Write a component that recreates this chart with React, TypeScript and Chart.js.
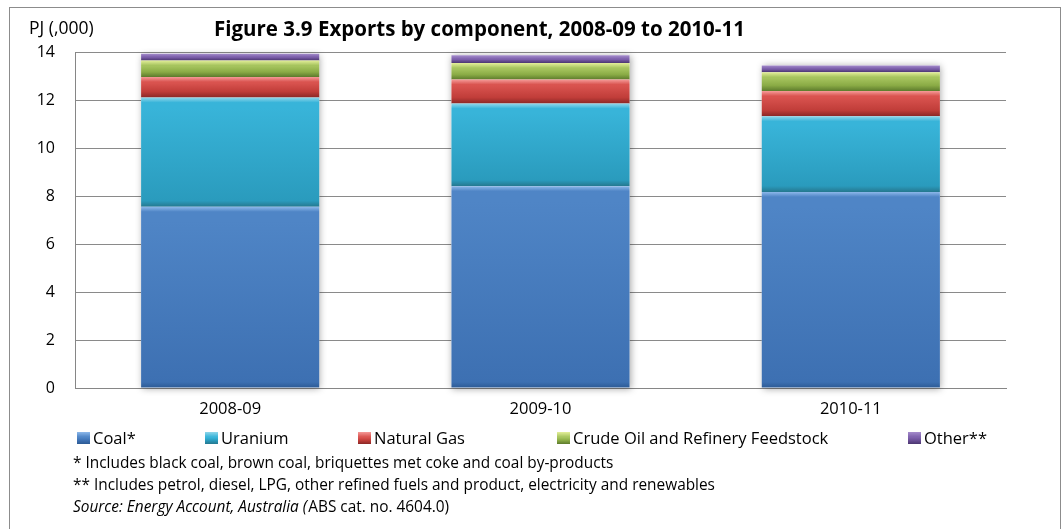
import React, { useEffect, useRef } from "react";
import { Chart, registerables } from "chart.js";

Chart.register(...registerables);

const categories = ["2008-09", "2009-10", "2010-11"];
const coal = [7.55, 8.41, 8.17];
const uranium = [4.55, 3.44, 3.15];
const naturalGas = [0.86, 1.0, 1.05];
const crudeOil = [0.69, 0.69, 0.79];
const other = [0.28, 0.32, 0.28];
const seriesNames = ["Coal*", "Uranium", "Natural Gas", "Crude Oil and Refinery Feedstock", "Other**"];
const seriesValues = [coal, uranium, naturalGas, crudeOil, other];
const yTicks = [0, 2, 4, 6, 8, 10, 12, 14];

const titleText = "Figure 3.9 Exports by component, 2008-09 to 2010-11";
const unitText = "PJ (,000)";
const note1 = "* Includes black coal, brown coal, briquettes met coke and coal by-products";
const note2 = "** Includes petrol, diesel, LPG, other refined fuels and product, electricity and renewables";
const sourceItalic = "Source: Energy Account, Australia (";
const sourceNormal = "ABS cat. no. 4604.0)";

// [top highlight, upper body, lower body, bottom]
const palettes = [
  ["#8db8ea", "#4f85c6", "#3d70b2", "#2c5a94"],
  ["#8fd6ea", "#38b4d9", "#2a9bbd", "#25788f"],
  ["#f59a98", "#d9534f", "#c03d39", "#8a2725"],
  ["#e4ef9a", "#a6c45e", "#8aab45", "#5c7a2c"],
  ["#a58ccc", "#7f62ad", "#6a4f96", "#4b3670"],
];
const baseColors = ["#4a7ebe", "#31a9cf", "#c9443f", "#98b851", "#765aa2"];

const FONT = "'Open Sans', Lato, sans-serif";

function makeGradient(ctx: CanvasRenderingContext2D, y0: number, y1: number, p: string[]) {
  const g = ctx.createLinearGradient(0, y0, 0, y1);
  const h = Math.max(1, y1 - y0);
  const f = Math.min(0.45, 5 / h);
  g.addColorStop(0, p[0]);
  g.addColorStop(f, p[1]);
  g.addColorStop(Math.min(0.9, f + 0.05), p[1]);
  g.addColorStop(Math.max(f + 0.06, 1 - Math.min(0.3, 6 / h)), p[2]);
  g.addColorStop(1, p[3]);
  return g;
}

export default function App() {
  const canvasRef = useRef<HTMLCanvasElement | null>(null);

  useEffect(() => {
    document.body.style.margin = "0";
    const canvas = canvasRef.current;
    if (!canvas) return;

    const decor = {
      id: "decor",
      beforeDatasetsDraw(chart: any) {
        const ctx = chart.ctx as CanvasRenderingContext2D;
        const ys = chart.scales.y;
        const meta = chart.getDatasetMeta(0);
        ctx.save();
        ctx.shadowColor = "rgba(0,0,0,0.35)";
        ctx.shadowBlur = 7;
        ctx.shadowOffsetX = 1;
        ctx.shadowOffsetY = 1;
        ctx.fillStyle = "#ffffff";
        categories.forEach((_, j) => {
          let total = 0;
          seriesValues.forEach((s) => (total += s[j]));
          const el = meta.data[j] as any;
          const w = el.width;
          const x = el.x - w / 2;
          const yt = ys.getPixelForValue(total);
          const yb = ys.getPixelForValue(0);
          ctx.fillRect(x, yt, w, yb - yt);
        });
        ctx.restore();
      },
      afterDraw(chart: any) {
        const ctx = chart.ctx as CanvasRenderingContext2D;
        ctx.save();
        // outer border
        ctx.strokeStyle = "#8c8c8c";
        ctx.lineWidth = 1;
        ctx.strokeRect(9.5, 7.5, 1051, 540);
        ctx.fillStyle = "#000";
        ctx.textBaseline = "alphabetic";
        // title
        ctx.font = `bold 20.5px ${FONT}`;
        ctx.textAlign = "left";
        ctx.fillText(titleText, 214, 36);
        // unit
        ctx.font = `17.5px ${FONT}`;
        ctx.fillText(unitText, 29, 34);
        // legend
        const legendX = [77, 205, 358, 557, 908];
        ctx.font = `16.5px ${FONT}`;
        seriesNames.forEach((name, i) => {
          const x = legendX[i];
          const g = makeGradient(ctx, 432, 444, palettes[i]);
          ctx.fillStyle = g;
          ctx.fillRect(x, 432, 13, 12);
          ctx.fillStyle = "#000";
          ctx.fillText(name, x + 16, 444);
        });
        // notes
        ctx.font = `15.4px ${FONT}`;
        ctx.fillText(note1, 73, 468);
        ctx.fillText(note2, 73, 490);
        ctx.font = `italic 15.4px ${FONT}`;
        ctx.fillText(sourceItalic, 73, 512);
        const w = ctx.measureText(sourceItalic).width;
        ctx.font = `15.4px ${FONT}`;
        ctx.fillText(sourceNormal, 73 + w + 1, 512);
        ctx.restore();
      },
    };

    const datasets = seriesNames.map((name, i) => ({
      label: name,
      data: seriesValues[i],
      backgroundColor: (c: any) => {
        const chart = c.chart;
        const ys = chart.scales && chart.scales.y;
        if (c.type !== "data" || !ys || !chart.chartArea) return baseColors[i];
        const j = c.dataIndex;
        let start = 0;
        for (let k = 0; k < i; k++) start += seriesValues[k][j];
        const end = start + seriesValues[i][j];
        const y0 = ys.getPixelForValue(end);
        const y1 = ys.getPixelForValue(start);
        if (!isFinite(y0) || !isFinite(y1)) return baseColors[i];
        return makeGradient(chart.ctx, y0, y1, palettes[i]);
      },
      borderWidth: 0,
      barPercentage: 0.574,
      categoryPercentage: 1,
    }));

    const chart = new Chart(canvas, {
      type: "bar",
      data: { labels: categories, datasets },
      options: {
        animation: false,
        responsive: false,
        maintainAspectRatio: false,
        layout: { padding: { left: 0, top: 52, right: 56, bottom: 0 } },
        plugins: {
          legend: { display: false },
          title: { display: false },
          tooltip: { enabled: false },
        },
        scales: {
          x: {
            stacked: true,
            grid: { display: false, drawTicks: false },
            border: { display: true, color: "#868686", width: 1 },
            ticks: { color: "#000", font: { family: FONT, size: 16.5 }, padding: 11 },
            afterFit: (s: any) => {
              s.height = 141;
            },
          },
          y: {
            stacked: true,
            min: 0,
            max: 14,
            afterBuildTicks: (s: any) => {
              s.ticks = yTicks.map((v) => ({ value: v }));
            },
            grid: { color: "#8a8a8a", lineWidth: 1, drawTicks: false },
            border: { display: true, color: "#868686", width: 1 },
            ticks: { color: "#000", font: { family: FONT, size: 16 }, padding: 20 },
            afterFit: (s: any) => {
              s.width = 75;
            },
          },
        },
      },
      plugins: [decor],
    });

    return () => chart.destroy();
  }, []);

  return (
    <div style={{ width: 1062, height: 529, background: "#fff" }}>
      <canvas ref={canvasRef} width={1062} height={529} style={{ display: "block" }} />
    </div>
  );
}
